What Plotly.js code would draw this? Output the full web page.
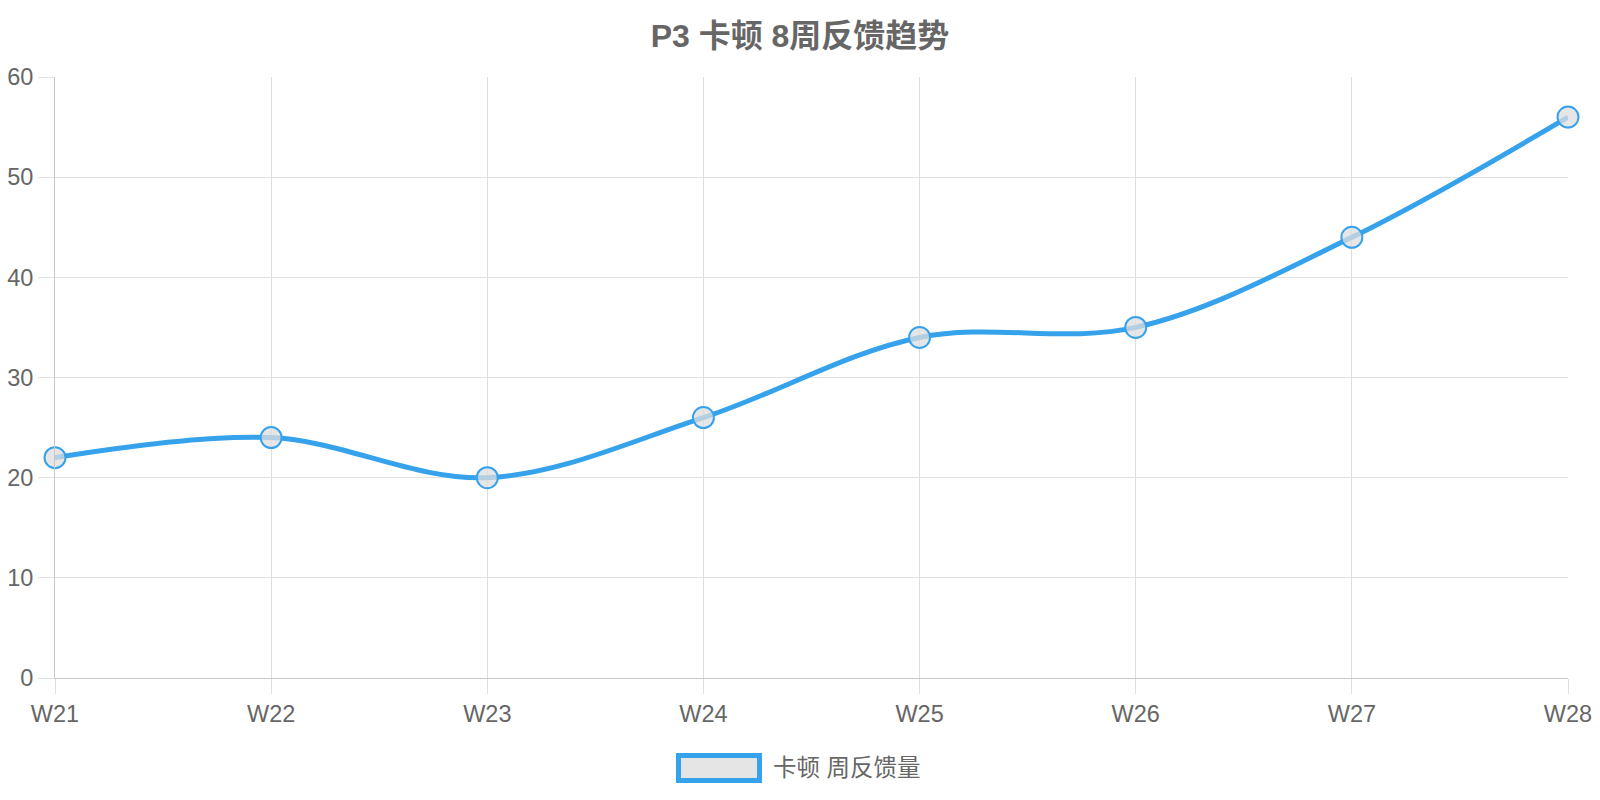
<!DOCTYPE html>
<html>
<head>
<meta charset="utf-8">
<script src="https://cdn.plot.ly/plotly-3.0.1.min.js"></script>
<style>
  html, body { margin: 0; padding: 0; background: #fff; }
  #chart { width: 1600px; height: 800px; }
</style>
</head>
<body>
<div id="chart"></div>
<script>
const weeks = ['W21', 'W22', 'W23', 'W24', 'W25', 'W26', 'W27', 'W28']
const feedback = [22, 24, 20, 26, 34, 35, 44, 56]
const seriesName = '卡顿 周反馈量'
const chartTitle = 'P3 卡顿 8周反馈趋势'

const FONT = 'Liberation Sans, Arial, Noto Sans CJK SC, sans-serif'
const BLUE = '#36A2EB'
const TEXT = '#666666'

window.addEventListener('load', () => {
  drawChart()
})

function drawChart () {
  const data = [{
    x: weeks,
    y: feedback,
    type: 'scatter',
    mode: 'lines+markers',
    name: seriesName,
    line: { color: BLUE, width: 5, shape: 'spline', smoothing: 1 },
    marker: {
      size: 21,
      color: 'rgba(222,222,222,0.75)',
      line: { color: BLUE, width: 2 }
    },
    cliponaxis: false,
    showlegend: false
  }]

  const layout = {
    width: 1600,
    height: 800,
    margin: { l: 55, r: 32, t: 77, b: 122 },
    paper_bgcolor: '#fff',
    plot_bgcolor: '#fff',
    font: { family: FONT, color: TEXT, size: 23 },
    title: {
      text: chartTitle,
      font: { family: FONT, size: 32, color: TEXT, weight: 'bold' },
      xref: 'container',
      yref: 'container',
      x: 0.5,
      y: 1 - 36 / 800,
      xanchor: 'center',
      yanchor: 'middle'
    },
    xaxis: {
      type: 'category',
      range: [0, weeks.length - 1],
      showgrid: true,
      gridcolor: '#dedede',
      gridwidth: 1,
      showline: true,
      linecolor: '#c8c8c8',
      linewidth: 1,
      ticks: 'outside',
      ticklen: 15,
      tickcolor: '#dedede',
      tickfont: { size: 23.5, color: TEXT },
      zeroline: false,
      fixedrange: true
    },
    yaxis: {
      range: [0, 60],
      dtick: 10,
      showgrid: true,
      gridcolor: '#e3e3e3',
      gridwidth: 1,
      showline: true,
      linecolor: '#c8c8c8',
      linewidth: 1,
      ticks: 'outside',
      ticklen: 16,
      tickcolor: '#e3e3e3',
      tickfont: { size: 23.5, color: TEXT },
      zeroline: false,
      fixedrange: true
    },
    shapes: [{
      // legend swatch
      type: 'rect',
      xref: 'paper',
      yref: 'paper',
      x0: (678.5 - 55) / 1513,
      x1: (759.5 - 55) / 1513,
      y0: (678 - 755.5) / 601,
      y1: (678 - 780.5) / 601,
      fillcolor: '#e5e5e5',
      line: { color: BLUE, width: 5 }
    }],
    annotations: [{
      text: seriesName,
      xref: 'paper',
      yref: 'paper',
      x: (771 - 55) / 1513,
      y: (678 - 768) / 601,
      xanchor: 'left',
      yanchor: 'middle',
      showarrow: false,
      font: { family: FONT, size: 23.5, color: TEXT }
    }]
  }

  Plotly.newPlot('chart', data, layout, { displayModeBar: false, staticPlot: true })
}
</script>
</body>
</html>
